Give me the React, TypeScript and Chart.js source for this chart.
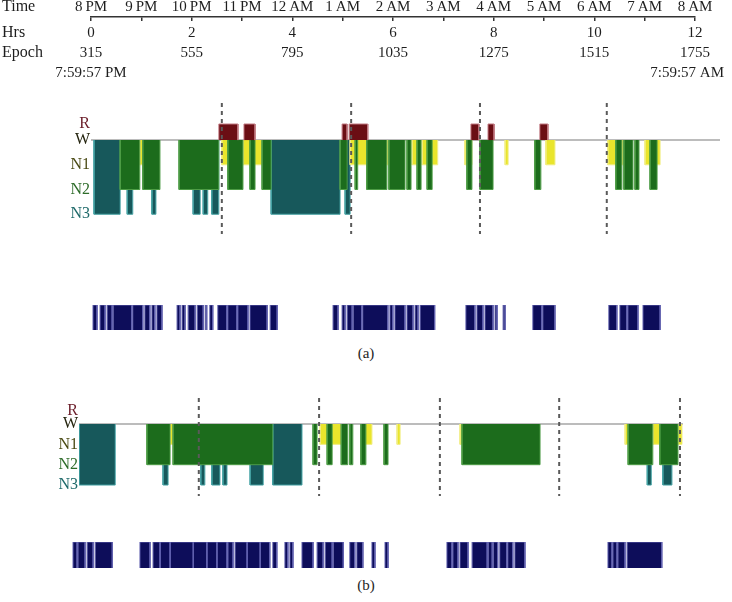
import React, { useEffect, useRef } from "react";
import { Chart, registerables } from "chart.js";
Chart.register(...registerables);

const FONT = "'Liberation Serif', 'DejaVu Serif', serif";

// ---------- top time axis ----------
const hourTicks = [0, 1, 2, 3, 4, 5, 6, 7, 8, 9, 10, 11, 12];
const timeLabels = ["8\u2009PM", "9\u2009PM", "10\u2009PM", "11\u2009PM", "12\u2009AM", "1\u2009AM", "2\u2009AM", "3\u2009AM", "4\u2009AM", "5\u2009AM", "6\u2009AM", "7\u2009AM", "8\u2009AM"];
const hrsTicks = [0, 2, 4, 6, 8, 10, 12];
const hrsLabels = ["0", "2", "4", "6", "8", "10", "12"];
const epochLabels = ["315", "555", "795", "1035", "1275", "1515", "1755"];
const stampLabels = ["7:59:57 PM", "7:59:57 AM"];
const rowLabels = ["Time", "Hrs", "Epoch"];

// ---------- sleep stages ----------
const stageNames = ["N3", "N2", "N1", "W", "R"];
const stageLevels = [1, 2, 3, 4, 4.65];
const stageColors = ["#1f6a6a", "#2e6c2a", "#4a4a14", "#24240e", "#6a1c28"];

// panel (a): episodes in hours after 8 PM  [start, end]
const aN3 = [[0.06, 0.58], [0.72, 0.83], [1.21, 1.29], [2.03, 2.17], [2.23, 2.32], [2.40, 2.54], [3.58, 4.95], [5.05, 5.15]];
const aN2 = [[0.58, 0.97], [1.03, 1.37], [1.75, 2.54], [2.72, 3.02], [3.16, 3.26], [3.40, 3.58], [4.95, 5.09], [5.25, 5.30], [5.48, 5.88], [5.92, 6.24], [6.28, 6.36], [6.48, 6.56], [6.68, 6.78], [7.47, 7.57], [7.73, 7.99], [8.82, 8.94], [10.43, 10.55], [10.59, 10.77], [10.81, 10.89], [11.11, 11.25]];
const aN1 = [[0.97, 1.03], [2.60, 2.76], [3.02, 3.40], [5.15, 5.48], [5.88, 5.92], [6.38, 6.50], [6.58, 6.89], [7.43, 7.57], [8.23, 8.29], [9.04, 9.22], [10.27, 10.45], [10.55, 10.59], [11.01, 11.31]];
const aR = [[2.54, 2.92], [3.04, 3.26], [4.99, 5.09], [5.13, 5.50], [7.55, 7.71], [7.89, 8.01], [8.92, 9.08]];
const aDashes = [2.60, 5.17, 7.73, 10.25];
const aAct = [[0.04, 0.12], [0.18, 0.28], [0.32, 0.42], [0.44, 0.81], [0.83, 1.03], [1.07, 1.17], [1.21, 1.27], [1.31, 1.41],
  [1.71, 1.77], [1.81, 1.87], [1.93, 2.07], [2.11, 2.23], [2.27, 2.30], [2.36, 2.42], [2.52, 2.70], [2.72, 2.90], [2.92, 3.12], [3.16, 3.50], [3.56, 3.70],
  [4.81, 4.91], [4.99, 5.05], [5.09, 5.19], [5.21, 5.38], [5.40, 5.90], [5.94, 6.00], [6.04, 6.24], [6.28, 6.40], [6.44, 6.50], [6.54, 6.83],
  [7.45, 7.63], [7.67, 7.79], [7.83, 7.99], [8.03, 8.07], [8.19, 8.23],
  [8.78, 8.96], [8.98, 9.22],
  [10.29, 10.45], [10.51, 10.65], [10.67, 10.87], [10.97, 11.31]];

// panel (b)
const bN3 = [[0, 0.72], [1.67, 1.77], [2.42, 2.50], [2.64, 2.80], [2.86, 2.94], [3.40, 3.66], [3.85, 4.43], [11.29, 11.37], [11.60, 11.78]];
const bN2 = [[1.35, 1.81], [1.87, 3.85], [4.65, 4.73], [4.93, 5.03], [5.21, 5.34], [5.38, 5.44], [5.60, 5.70], [6.06, 6.14], [7.61, 9.16], [10.91, 11.40], [11.54, 11.90]];
const bN1 = [[1.81, 1.87], [4.79, 5.21], [5.68, 5.82], [6.32, 6.38], [7.57, 7.71], [10.85, 10.95], [11.40, 11.54], [11.90, 11.98]];
const bR: number[][] = [];
const bDashes = [2.38, 4.77, 7.17, 9.54, 11.94];
const bAct = [[-0.12, -0.04], [-0.02, 0.12], [0.16, 0.28], [0.32, 0.66],
  [1.21, 1.41], [1.47, 1.61], [1.61, 1.81], [1.81, 2.27], [2.27, 2.54], [2.54, 2.74], [2.74, 2.94], [2.96, 3.06], [3.10, 3.34], [3.34, 3.60], [3.60, 3.79], [3.85, 3.93],
  [4.09, 4.15], [4.19, 4.25],
  [4.43, 4.65], [4.73, 4.85], [4.89, 5.03], [5.05, 5.25],
  [5.38, 5.48], [5.52, 5.64], [5.82, 5.88], [6.08, 6.14],
  [7.31, 7.41], [7.43, 7.53], [7.57, 7.73], [7.81, 8.11], [8.13, 8.21], [8.23, 8.32], [8.36, 8.50], [8.52, 8.62], [8.66, 8.86],
  [10.51, 10.59], [10.61, 10.69], [10.71, 10.85], [10.89, 11.58]];

// ---------- helpers ----------
function blockPoints(segs: number[][], level: number, base: number) {
  const pts: any[] = [];
  segs.forEach(([s, e]) => {
    pts.push({ x: s, y: base }, { x: s, y: level }, { x: e, y: level }, { x: e, y: base }, { x: e, y: null });
  });
  return pts;
}

function blockDataset(segs: number[][], level: number, base: number, bg: string, border: string, order: number) {
  return {
    data: blockPoints(segs, level, base),
    backgroundColor: bg,
    borderColor: border,
    borderWidth: 1,
    pointRadius: 0,
    tension: 0,
    spanGaps: false,
    fill: { value: base },
    order,
  };
}

const commonOpts = {
  animation: false,
  responsive: false,
  maintainAspectRatio: false,
  events: [],
  plugins: { legend: { display: false }, tooltip: { enabled: false } },
};

function hypConfig(p: any) {
  const W = stageLevels[3];
  const dashPts: any[] = [];
  p.dashes.forEach((x: number) => {
    dashPts.push({ x, y: p.yMax }, { x, y: p.yMin }, { x, y: null });
  });
  return {
    type: "line",
    data: {
      datasets: [
        { data: dashPts, borderColor: "#5a5a5a", borderWidth: 2, borderDash: [4, 4], pointRadius: 0, fill: false, spanGaps: false, order: 0 },
        blockDataset(p.r, stageLevels[4], W, "#6b0e14", "#c07880", 1),
        blockDataset(p.n2, stageLevels[1], W, "#1c6c1c", "#4d9c45", 2),
        blockDataset(p.n1, stageLevels[2], W, "#e9e52c", "#f1ed80", 3),
        blockDataset(p.n3, stageLevels[0], W, "#17585b", "#43a1a3", 4),
        { data: [{ x: p.xMin, y: W }, { x: p.xMax, y: W }], borderColor: "#a6a6a6", borderWidth: 1.5, pointRadius: 0, fill: false, order: 5 },
      ],
    },
    options: {
      ...commonOpts,
      layout: { padding: { left: 0, right: p.rightPad, top: 0, bottom: 0 } },
      scales: {
        x: { type: "linear", min: p.xMin, max: p.xMax, display: false },
        y: {
          type: "linear",
          min: p.yMin,
          max: p.yMax,
          afterFit: (s: any) => { s.width = p.axisWidth; s.paddingTop = 0; s.paddingBottom = 0; },
          afterBuildTicks: (s: any) => { s.ticks = stageLevels.map((v) => ({ value: v })); },
          ticks: {
            autoSkip: false,
            padding: 1,
            font: { family: FONT, size: 16 },
            color: (c: any) => stageColors[c.index],
            callback: (_v: any, i: number) => stageNames[i],
          },
          grid: { display: false, drawTicks: false },
          border: { display: false },
        },
      },
    },
  };
}

function actConfig(p: any) {
  return {
    type: "line",
    data: {
      datasets: [blockDataset(p.segs, 1, 0, "#0d0d5a", "#6060ae", 0)],
    },
    options: {
      ...commonOpts,
      layout: { padding: { left: p.leftPad, right: p.rightPad, top: p.padY, bottom: p.padY } },
      scales: {
        x: { type: "linear", min: p.xMin, max: p.xMax, display: false },
        y: { type: "linear", min: 0, max: 1, display: false },
      },
    },
  };
}

const rowTextPlugin = {
  id: "rowText",
  afterDraw(chart: any) {
    const ctx = chart.ctx;
    const xs = chart.scales.x;
    ctx.save();
    ctx.fillStyle = "#1e1e1e";
    ctx.textBaseline = "middle";
    ctx.textAlign = "left";
    ctx.font = `16px ${FONT}`;
    const rowY = [7, 33, 53];
    rowLabels.forEach((t, i) => ctx.fillText(t, 2, rowY[i]));
    ctx.font = `15px ${FONT}`;
    ctx.textAlign = "center";
    ctx.fillText(stampLabels[0], xs.getPixelForValue(0), 73);
    ctx.textAlign = "right";
    ctx.fillText(stampLabels[1], xs.getPixelForValue(12) + 29, 73);
    ctx.restore();
  },
};

function axisConfig() {
  const tickFont = { family: FONT, size: 15 };
  return {
    type: "line",
    data: { datasets: [] },
    options: {
      ...commonOpts,
      layout: { padding: { left: 91, right: 37, top: 0, bottom: 27 } },
      scales: {
        x: {
          type: "linear", position: "top", min: 0, max: 12,
          afterFit: (s: any) => { s.height = 17; },
          afterBuildTicks: (s: any) => { s.ticks = hourTicks.map((v) => ({ value: v })); },
          ticks: { autoSkip: false, maxRotation: 0, padding: 1, color: "#1e1e1e", font: tickFont, callback: (_v: any, i: number) => timeLabels[i] },
          grid: { drawOnChartArea: true, drawTicks: false, color: "#333", lineWidth: 1.5 },
          border: { display: true, color: "#333", width: 1.5 },
        },
        xh: {
          type: "linear", axis: "x", position: "bottom", min: 0, max: 12,
          afterFit: (s: any) => { s.height = 21; },
          afterBuildTicks: (s: any) => { s.ticks = hrsTicks.map((v) => ({ value: v })); },
          ticks: { autoSkip: false, maxRotation: 0, padding: 3, color: "#1e1e1e", font: tickFont, callback: (_v: any, i: number) => hrsLabels[i] },
          grid: { display: false, drawTicks: false },
          border: { display: false },
        },
        xe: {
          type: "linear", axis: "x", position: "bottom", min: 0, max: 12,
          afterFit: (s: any) => { s.height = 21; },
          afterBuildTicks: (s: any) => { s.ticks = hrsTicks.map((v) => ({ value: v })); },
          ticks: { autoSkip: false, maxRotation: 0, padding: 2, color: "#1e1e1e", font: tickFont, callback: (_v: any, i: number) => epochLabels[i] },
          grid: { display: false, drawTicks: false },
          border: { display: false },
        },
        y: { type: "linear", min: 0, max: 1, display: false },
      },
    },
    plugins: [rowTextPlugin],
  };
}

function ChartBox({ top, height, build }: { top: number; height: number; build: () => any }) {
  const ref = useRef<HTMLCanvasElement>(null);
  useEffect(() => {
    const chart = new Chart(ref.current as HTMLCanvasElement, build());
    return () => chart.destroy();
  }, []);
  return (
    <canvas
      ref={ref}
      width={732}
      height={height}
      style={{ position: "absolute", left: 0, top, width: 732, height, display: "block" }}
    />
  );
}

const captionStyle: any = {
  position: "absolute", left: 0, width: 732, textAlign: "center",
  fontFamily: FONT, fontSize: 15, lineHeight: "18px", color: "#1e1e1e",
};

export default function App() {
  return (
    <div style={{ position: "absolute", left: 0, top: 0, width: 732, height: 602, background: "#fff", overflow: "hidden" }}>
      <ChartBox top={0} height={90} build={axisConfig} />
      <ChartBox
        top={103}
        height={131}
        build={() => hypConfig({ n3: aN3, n2: aN2, n1: aN1, r: aR, dashes: aDashes, xMin: 0, xMax: 12.5, yMin: 0.2, yMax: 5.5, axisWidth: 91, rightPad: 12 })}
      />
      <ChartBox top={300} height={35} build={() => actConfig({ segs: aAct, xMin: 0, xMax: 12.5, leftPad: 91, rightPad: 12, padY: 5 })} />
      <div style={{ ...captionStyle, top: 344 }}>(a)</div>
      <ChartBox
        top={398}
        height={98}
        build={() => hypConfig({ n3: bN3, n2: bN2, n1: bN1, r: bR, dashes: bDashes, xMin: 0, xMax: 12, yMin: 0.46, yMax: 5.28, axisWidth: 79, rightPad: 49 })}
      />
      <ChartBox top={538} height={34} build={() => actConfig({ segs: bAct, xMin: -0.2, xMax: 12.2, leftPad: 69, rightPad: 39, padY: 4 })} />
      <div style={{ ...captionStyle, top: 576 }}>(b)</div>
    </div>
  );
}
